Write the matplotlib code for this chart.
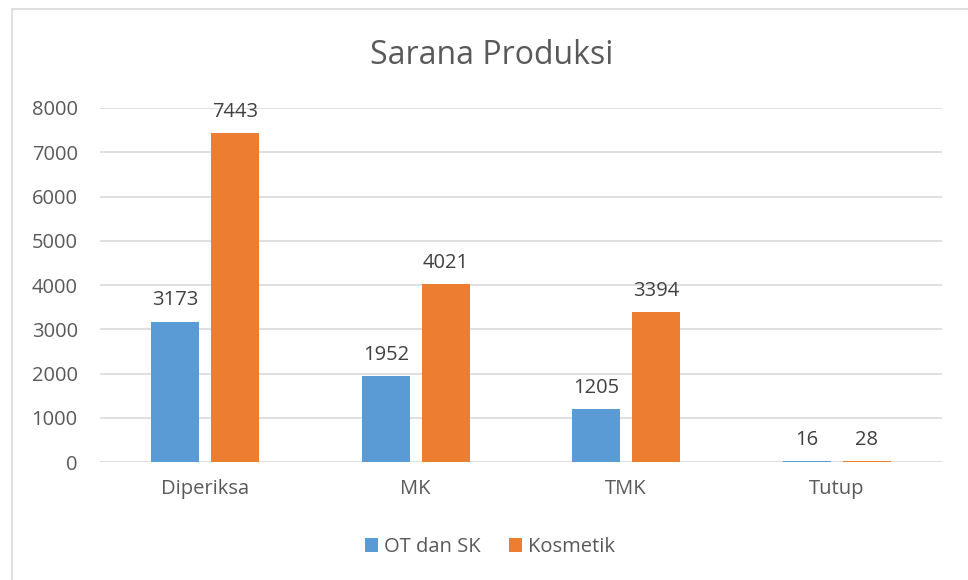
import matplotlib.pyplot as plt
import numpy as np
from matplotlib.patches import Rectangle

categories = ['Diperiksa', 'MK', 'TMK', 'Tutup']
ot_sk = [3173, 1952, 1205, 16]
kosmetik = [7443, 4021, 3394, 28]
series_names = ['OT dan SK', 'Kosmetik']

plt.rcParams['font.family'] = ['Open Sans', 'DejaVu Sans']
txt = '#595959'
grid_c = '#D9D9D9'

fig = plt.figure(figsize=(9.68, 5.8), dpi=100)
ax = fig.add_axes([0.1033, 0.2034, 0.8697, 0.6104])

# chart border (Excel style)
fig.patches.append(Rectangle((12 / 968, -0.1), 1.1, 1 - 9 / 580 + 0.1,
                             transform=fig.transFigure, fill=False,
                             edgecolor=grid_c, linewidth=1.2))

x = np.arange(len(categories))
w = 0.228
off = 0.142
b1 = ax.bar(x - off, ot_sk, w, color='#5B9BD5', label=series_names[0])
b2 = ax.bar(x + off, kosmetik, w, color='#ED7D31', label=series_names[1])

for bars in (b1, b2):
    for r in bars:
        ax.annotate(str(int(r.get_height())),
                    (r.get_x() + r.get_width() / 2, r.get_height()),
                    xytext=(0, 8), textcoords='offset points',
                    ha='center', va='bottom', fontsize=14.5, color='#404040')

ax.set_xlim(-0.5, len(categories) - 0.5)
ax.set_ylim(0, 8000)
ax.set_yticks(range(0, 8001, 1000))
ax.yaxis.grid(True, color=grid_c, linewidth=1.2)
ax.set_axisbelow(True)
for s in ax.spines.values():
    s.set_visible(False)
ax.tick_params(axis='both', length=0, labelsize=14.5, labelcolor=txt)
ax.tick_params(axis='y', pad=16)
ax.tick_params(axis='x', pad=12)
ax.set_xticks(x)
ax.set_xticklabels(categories)

fig.text(0.508, 0.905, 'Sarana Produksi', ha='center', va='center',
         fontsize=23, color=txt)

fig.legend(loc='center', bbox_to_anchor=(0.506, 0.057), ncol=2, frameon=False,
           fontsize=14.5, labelcolor=txt, handlelength=0.65, handleheight=0.65,
           handletextpad=0.3, columnspacing=1.4)

fig.savefig('out.png', dpi=100)
